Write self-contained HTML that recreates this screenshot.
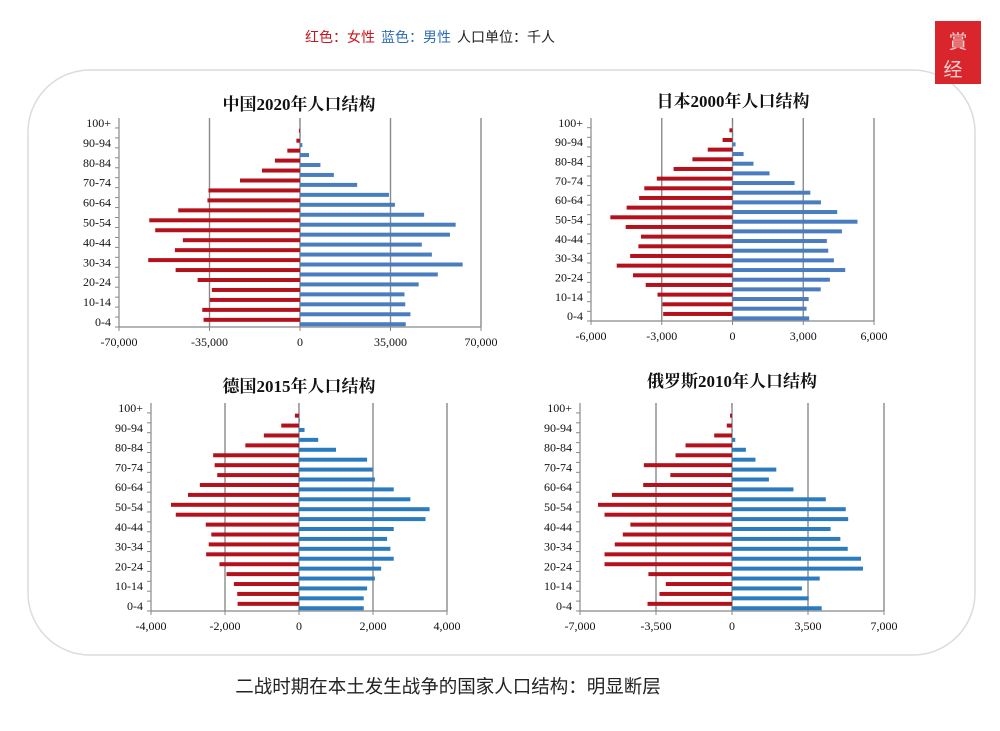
<!DOCTYPE html>
<html><head><meta charset="utf-8">
<style>
html,body{margin:0;padding:0;background:#fff;}
body{width:1000px;height:731px;overflow:hidden;position:relative;font-family:"Liberation Sans","Noto Sans CJK SC",sans-serif;}
svg{position:absolute;left:0;top:0;}
</style></head>
<body>
<svg id="s" width="1000" height="731" xmlns="http://www.w3.org/2000/svg">
<rect x="28" y="70" width="947" height="585" rx="62" ry="62" fill="none" stroke="#dcdcdc" stroke-width="1.5"/>
<text x="305" y="42" font-size="14" font-family="Liberation Sans,Noto Sans CJK SC,sans-serif"><tspan fill="#c8161d">红色：女性</tspan><tspan fill="#2f6db5" dx="6">蓝色：男性</tspan><tspan fill="#222" dx="6">人口单位：千人</tspan></text>
<g>
<rect x="935" y="21" width="46" height="63" fill="#d8262c"/>
<text x="958" y="48" font-size="19" fill="#f4d0d0" text-anchor="middle" font-family="Noto Sans CJK SC,sans-serif">賞</text>
<text x="953" y="76" font-size="19" fill="#f4d0d0" text-anchor="middle" font-family="Noto Sans CJK SC,sans-serif">经</text>
</g>
<text x="448" y="693" font-size="18.5" fill="#222" text-anchor="middle" font-family="Liberation Sans,Noto Sans CJK SC,sans-serif">二战时期在本土发生战争的国家人口结构：明显断层</text>
<g id="charts"></g>
</svg>
<script>
var charts=[
{t:"中国2020年人口结构",tx:299,ty:110,xl:119,xr:481,top:118,base:327,max:70000,ticks:["-70,000","-35,000","0","35,000","70,000"],blue:"#4a7cc0",
r:[37300,37800,34900,34100,39600,48100,58700,48400,45300,56000,58300,47100,35800,35400,23200,14700,9700,4900,1400,400,80],
b:[40900,42700,40700,40400,45900,53300,62900,51000,47100,58000,60200,48000,36700,34400,22100,13100,7900,3500,900,200,30]},
{t:"日本2000年人口结构",tx:733,ty:107,xl:591,xr:874,top:118,base:321,max:6000,ticks:["-6,000","-3,000","0","3,000","6,000"],blue:"#4a7cc0",
r:[2940,2970,3180,3680,4220,4910,4340,3990,3880,4530,5180,4490,3960,3740,3210,2500,1700,1050,420,130,10],
b:[3250,3140,3230,3740,4130,4780,4300,4060,4000,4640,5300,4440,3750,3300,2630,1570,890,470,130,30,5]},
{t:"德国2015年人口结构",tx:299,ty:392,xl:151,xr:447,top:403,base:611,max:4000,ticks:["-4,000","-2,000","0","2,000","4,000"],blue:"#2b7bbf",
r:[1660,1670,1760,1960,2150,2510,2440,2370,2520,3330,3460,3000,2680,2210,2280,2320,1450,950,480,110,5],
b:[1750,1750,1840,2050,2220,2560,2470,2380,2560,3420,3530,3010,2560,2050,1990,1840,1000,520,150,20,2]},
{t:"俄罗斯2010年人口结构",tx:732,ty:387,xl:580,xr:884,top:403,base:611,max:7000,ticks:["-7,000","-3,500","0","3,500","7,000"],blue:"#2b7bbf",
r:[3890,3340,3050,3850,5870,5870,5400,5030,4680,5870,6170,5530,4090,2840,4060,2600,2140,820,240,90,10],
b:[4130,3530,3220,4040,6030,5940,5330,4990,4540,5350,5240,4320,2830,1700,2040,1080,640,150,20,5,2]}
];
var labels=["0-4","","10-14","","20-24","","30-34","","40-44","","50-54","","60-64","","70-74","","80-84","","90-94","","100+"];
var h='';
charts.forEach(function(c){
  var zx=(c.xl+c.xr)/2, sc=(c.xr-c.xl)/2/c.max, sh=(c.base-c.top)/21;
  h+='<text x="'+c.tx+'" y="'+c.ty+'" font-size="17" font-weight="bold" text-anchor="middle" fill="#111" font-family="Liberation Serif,Noto Serif CJK SC,serif">'+c.t+'</text>';
  for(var k=0;k<5;k++){
    var gx=c.xl+k*(c.xr-c.xl)/4;
    if(k>0) h+='<line x1="'+gx+'" y1="'+c.top+'" x2="'+gx+'" y2="'+c.base+'" stroke="#8a8a8a" stroke-width="1.4"/>';
    h+='<line x1="'+gx+'" y1="'+c.base+'" x2="'+gx+'" y2="'+(c.base+4)+'" stroke="#888" stroke-width="1"/>';
    h+='<text x="'+gx+'" y="'+(c.base+19)+'" font-size="12" text-anchor="middle" fill="#111" font-family="Liberation Serif,serif">'+c.ticks[k]+'</text>';
  }
  h+='<line x1="'+c.xl+'" y1="'+c.top+'" x2="'+c.xl+'" y2="'+c.base+'" stroke="#888" stroke-width="1.2"/>';
  h+='<line x1="'+c.xl+'" y1="'+c.base+'" x2="'+c.xr+'" y2="'+c.base+'" stroke="#888" stroke-width="1.2"/>';
  for(var i=0;i<21;i++){
    var cy=c.base-(i+0.5)*sh, ty=c.base-i*sh;
    h+='<line x1="'+(c.xl-4)+'" y1="'+ty+'" x2="'+c.xl+'" y2="'+ty+'" stroke="#888" stroke-width="1"/>';
    var rw=c.r[i]*sc, bw=c.b[i]*sc;
    h+='<rect x="'+(zx-rw)+'" y="'+(cy-4.2)+'" width="'+rw+'" height="4" fill="#b3121c"/>';
    h+='<rect x="'+zx+'" y="'+(cy+0.2)+'" width="'+bw+'" height="4" fill="'+c.blue+'"/>';
    if(labels[i]) h+='<text x="'+(c.xl-8)+'" y="'+(cy+4)+'" font-size="12" text-anchor="end" fill="#111" font-family="Liberation Serif,serif">'+labels[i]+'</text>';
  }
});
document.getElementById('charts').innerHTML=h;
</script>
</body></html>
